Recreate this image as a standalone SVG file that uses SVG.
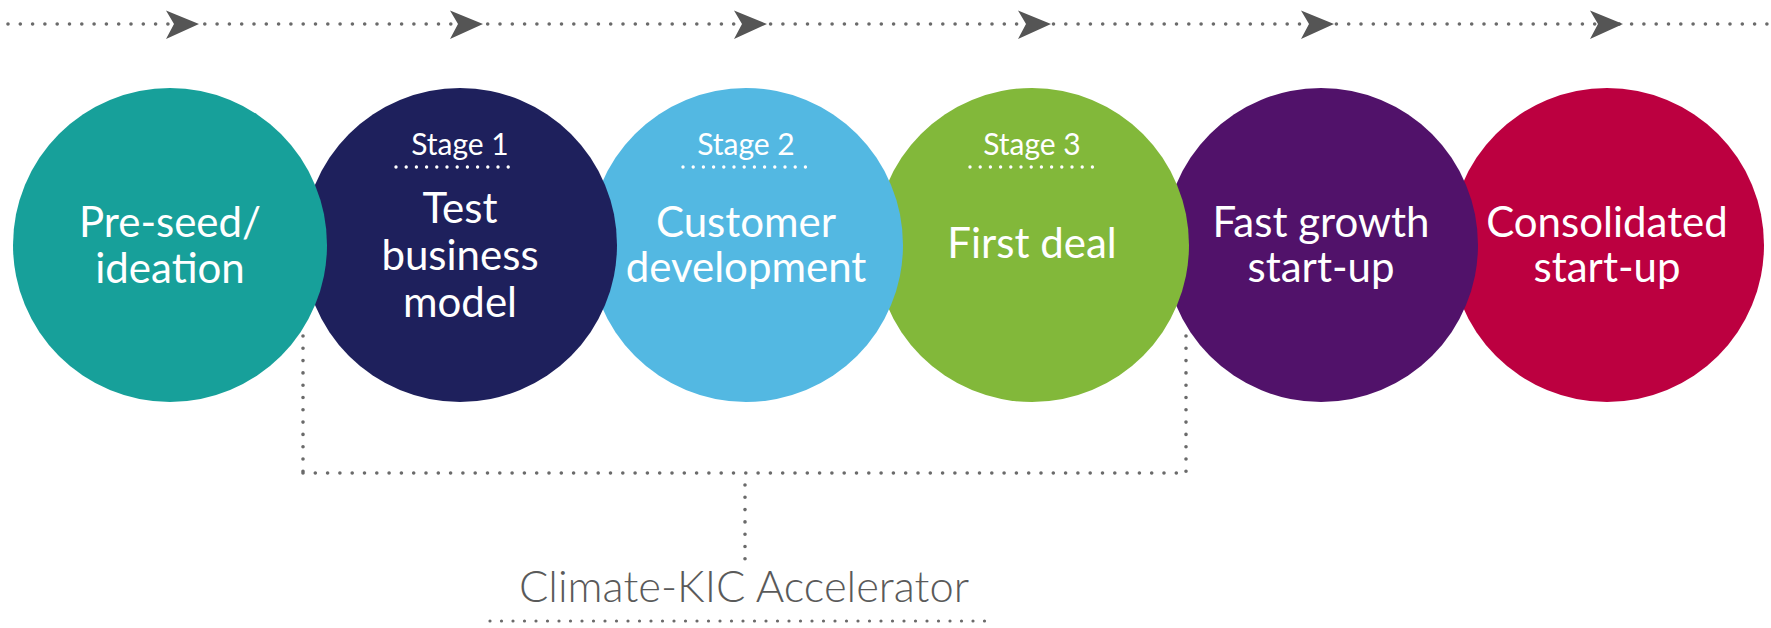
<svg xmlns="http://www.w3.org/2000/svg" width="1771" height="628" viewBox="0 0 1771 628">
  <defs>
    <style>
      .dots { fill: none; stroke: #6a6a6a; stroke-width: 3.6; stroke-linecap: round; stroke-dasharray: 0 12.3; }
      .fine { stroke-width: 3.2; stroke-dasharray: 0 11.5; }
      .wdots { fill: none; stroke: #ffffff; stroke-width: 3.4; stroke-linecap: round; stroke-dasharray: 0 10.2; }
      .head { fill: #555555; }
      .label { font-family: Lato, "Open Sans", "DejaVu Sans", sans-serif; fill: #ffffff; text-anchor: middle; }
      .big { font-size: 42px; }
      .stage { font-size: 30px; }
      .caption { font-family: Lato, "Open Sans", "DejaVu Sans", sans-serif; font-size: 43.5px; font-weight: 300; fill: #5a5a5a; text-anchor: middle; }
    </style>
  </defs>
  <rect width="1771" height="628" fill="#ffffff"/>

  <!-- connectors: timeline arrow and accelerator bracket -->
  <g id="connectors">
    <line class="dots" x1="8" y1="24" x2="1771" y2="24"/>
    <g id="timeline-heads">
      <polygon class="head" points="166,10.5 199,24 166,39 174,24"/>
      <polygon class="head" points="450,10.5 483,24 450,39 458,24"/>
      <polygon class="head" points="734,10.5 767,24 734,39 742,24"/>
      <polygon class="head" points="1018,10.5 1051,24 1018,39 1026,24"/>
      <polygon class="head" points="1301,10.5 1334,24 1301,39 1309,24"/>
      <polygon class="head" points="1590,10.5 1623,24 1590,39 1598,24"/>
    </g>
    <g id="bracket">
      <line class="dots" x1="303" y1="336" x2="303" y2="473"/>
      <line class="dots" x1="1186" y1="336" x2="1186" y2="473"/>
      <line class="dots" x1="303" y1="473" x2="1186" y2="473"/>
      <line class="dots" x1="745" y1="485" x2="745" y2="562"/>
    </g>
  </g>

  <!-- stages, drawn right to left so each circle overlaps its right neighbour -->
  <g id="consolidated">
    <circle cx="1607" cy="245" r="157" fill="#bc0040"/>
    <text class="label big" x="1607" y="237">Consolidated</text>
    <text class="label big" x="1607" y="282">start-up</text>
  </g>
  <g id="fast-growth">
    <circle cx="1321" cy="245" r="157" fill="#51126a"/>
    <text class="label big" x="1321" y="237">Fast growth</text>
    <text class="label big" x="1321" y="282">start-up</text>
  </g>
  <g id="first-deal">
    <circle cx="1032" cy="245" r="157" fill="#82b83a"/>
    <text class="label stage" x="1032" y="155">Stage 3</text>
    <line class="wdots" x1="970" y1="167" x2="1094" y2="167"/>
    <text class="label big" x="1032" y="258">First deal</text>
  </g>
  <g id="customer-development">
    <circle cx="746" cy="245" r="157" fill="#53b8e2"/>
    <text class="label stage" x="746" y="155">Stage 2</text>
    <line class="wdots" x1="683" y1="167" x2="806" y2="167"/>
    <text class="label big" x="746" y="237">Customer</text>
    <text class="label big" x="746" y="282">development</text>
  </g>
  <g id="test-business-model">
    <circle cx="460" cy="245" r="157" fill="#1e205c"/>
    <text class="label stage" x="460" y="155">Stage 1</text>
    <line class="wdots" x1="396" y1="167" x2="518" y2="167"/>
    <text class="label big" x="460" y="223">Test</text>
    <text class="label big" x="460" y="270">business</text>
    <text class="label big" x="460" y="317">model</text>
  </g>
  <g id="pre-seed">
    <circle cx="170" cy="245" r="157" fill="#17a09a"/>
    <text class="label big" x="170" y="237">Pre-seed/</text>
    <text class="label big" x="170" y="283">ideation</text>
  </g>

  <g id="accelerator">
    <text class="caption" x="744" y="602">Climate-KIC Accelerator</text>
    <line class="dots fine" x1="490" y1="621" x2="996" y2="621"/>
  </g>
</svg>
